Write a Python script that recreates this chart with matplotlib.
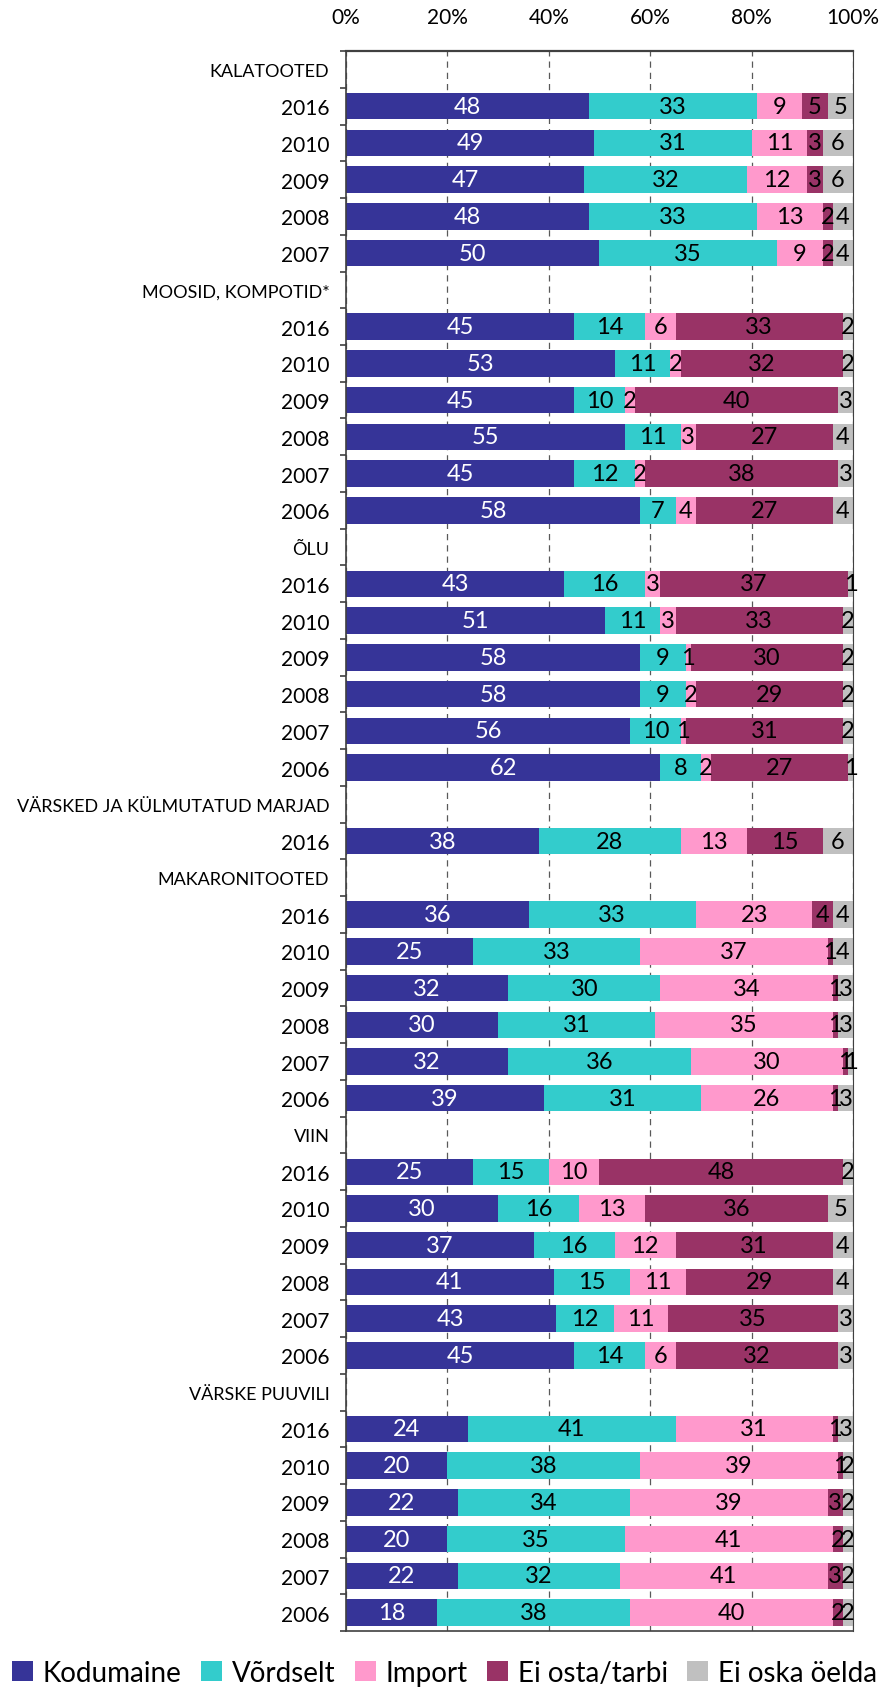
import numpy as np
import matplotlib.pyplot as plt
from matplotlib.ticker import FixedLocator, PercentFormatter

plt.rcParams["font.family"] = ["Lato", "DejaVu Sans"]

# product groups and the survey years shown under each
groups = [
    "KALATOOTED",
    "MOOSID, KOMPOTID*",
    "ÕLU",
    "VÄRSKED JA KÜLMUTATUD MARJAD",
    "MAKARONITOOTED",
    "VIIN",
    "VÄRSKE PUUVILI",
]
years = [
    [2016, 2010, 2009, 2008, 2007],
    [2016, 2010, 2009, 2008, 2007, 2006],
    [2016, 2010, 2009, 2008, 2007, 2006],
    [2016],
    [2016, 2010, 2009, 2008, 2007, 2006],
    [2016, 2010, 2009, 2008, 2007, 2006],
    [2016, 2010, 2009, 2008, 2007, 2006],
]

# answer shares (%), one value per bar, in the same order as the years above
kodumaine = [48, 49, 47, 48, 50,
             45, 53, 45, 55, 45, 58,
             43, 51, 58, 58, 56, 62,
             38,
             36, 25, 32, 30, 32, 39,
             25, 30, 37, 41, 43, 45,
             24, 20, 22, 20, 22, 18]
vordselt = [33, 31, 32, 33, 35,
            14, 11, 10, 11, 12, 7,
            16, 11, 9, 9, 10, 8,
            28,
            33, 33, 30, 31, 36, 31,
            15, 16, 16, 15, 12, 14,
            41, 38, 34, 35, 32, 38]
imp = [9, 11, 12, 13, 9,
       6, 2, 2, 3, 2, 4,
       3, 3, 1, 2, 1, 2,
       13,
       23, 37, 34, 35, 30, 26,
       10, 13, 12, 11, 11, 6,
       31, 39, 39, 41, 41, 40]
ei_osta = [5, 3, 3, 2, 2,
           33, 32, 40, 27, 38, 27,
           37, 33, 30, 29, 31, 27,
           15,
           4, 1, 1, 1, 1, 1,
           48, 36, 31, 29, 35, 32,
           1, 1, 3, 2, 3, 2]
ei_oska = [5, 6, 6, 4, 4,
           2, 2, 3, 4, 3, 4,
           1, 2, 2, 2, 2, 1,
           6,
           4, 4, 3, 3, 1, 3,
           2, 5, 4, 4, 3, 3,
           3, 2, 2, 2, 2, 2]

series_names = ["Kodumaine", "Võrdselt", "Import", "Ei osta/tarbi", "Ei oska öelda"]
colors = ["#363498", "#33CCCC", "#FF99CC", "#993366", "#C0C0C0"]
text_colors = ["white", "black", "black", "black", "black"]

# row layout: a header row per group followed by its year rows
row_labels, bar_rows, header_rows = [], [], []
for g, ys in zip(groups, years):
    header_rows.append(len(row_labels))
    row_labels.append(g)
    for y in ys:
        bar_rows.append(len(row_labels))
        row_labels.append(str(y))
n_rows = len(row_labels)
bar_rows = np.array(bar_rows)

# bars are drawn as shares of each row total (100 % stacked)
vals = np.array([kodumaine, vordselt, imp, ei_osta, ei_oska], dtype=float)
shares = vals / vals.sum(axis=0)

fig = plt.figure(figsize=(8.89, 16.9), dpi=100)
ax = fig.add_axes([0.3892, 0.0343, 0.5703, 0.9349])

left = np.zeros(len(bar_rows))
handles = []
for i in range(len(series_names)):
    bars = ax.barh(bar_rows, shares[i], left=left, height=0.72,
                   color=colors[i], label=series_names[i], zorder=2)
    ax.bar_label(bars, labels=[f"{v:.0f}" for v in vals[i]], label_type="center",
                 color=text_colors[i], fontsize=17)
    left += shares[i]
    handles.append(bars)

ax.set_xlim(0, 1)
ax.set_ylim(n_rows - 0.5, -0.5)

ax.xaxis.tick_top()
ax.set_xticks(np.arange(0, 1.01, 0.2))
ax.xaxis.set_major_formatter(PercentFormatter(1.0, decimals=0))
ax.tick_params(axis="x", length=0, pad=17, labelsize=15)
ax.grid(axis="x", linestyle=(0, (5, 4)), color="#595959", linewidth=0.9, zorder=0)
ax.set_axisbelow(True)

ax.set_yticks(np.arange(n_rows))
ax.set_yticklabels(row_labels)
ax.tick_params(axis="y", which="major", length=0, pad=12, labelsize=15)
# group headers in a smaller size so the long names fit
for r in header_rows:
    ax.get_yticklabels()[r].set_fontsize(13)
ax.yaxis.set_minor_locator(FixedLocator(np.arange(-0.5, n_rows, 1)))
ax.tick_params(axis="y", which="minor", length=4, width=1.2, color="#404040")

for side, lw in [("top", 1.6), ("left", 1.2), ("bottom", 1.2), ("right", 0.8)]:
    ax.spines[side].set_linewidth(lw)
    ax.spines[side].set_color("#404040")

fig.legend(handles=handles, loc="center", bbox_to_anchor=(0.5, 0.0095), ncol=5,
           frameon=False, fontsize=20, handlelength=0.75, handleheight=0.75,
           handletextpad=0.35, columnspacing=0.7, borderaxespad=0)

fig.savefig("out.png", dpi=100)
